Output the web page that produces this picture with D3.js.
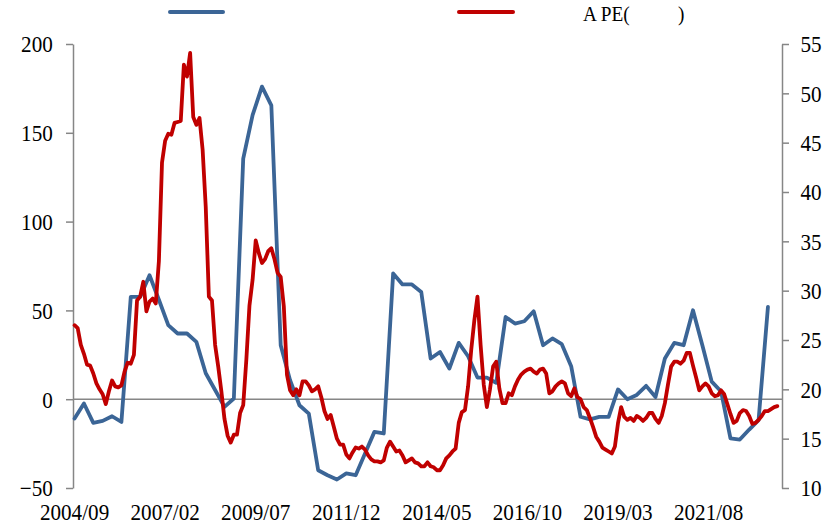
<!DOCTYPE html>
<html>
<head>
<meta charset="utf-8">
<script src="https://cdn.jsdelivr.net/npm/d3@7"></script>
<style>
  html, body { margin: 0; padding: 0; background: #fff; }
  svg { display: block; }
  text { font-family: "Liberation Serif", "Times New Roman", serif; fill: #000; }
</style>
</head>
<body>
<svg id="chart" width="823" height="524"></svg>
<script>
// ---------- data ----------
const startYear = 2004, startMonth = 9;          // first category: 2004/09 (monthly categories)
const monthCount = 227;                           // categories on the x axis
const xTickLabels = ["2004/09","2007/02","2009/07","2011/12","2014/05","2016/10","2019/03","2021/08"];
const xTickStep = 29;                             // months between labels
const leftTicks = [-50, 0, 50, 100, 150, 200];
const rightTicks = [10, 15, 20, 25, 30, 35, 40, 45, 50, 55];

// blue series (left axis), quarterly observations starting 2004/09
const blueStep = 3;
const blueValues = [
  -10.9, -2.4, -13.3, -12.2, -9.6, -12.8, 57.6, 57.6, 69.8, 56.0,
  41.7, 37.0, 37.0, 32.3, 14.6, 5.2, -4.3, 0.4, 135.5, 160.0,
  176.0, 165.5, 30.4, 10.7, -3.4, -8.1, -40.0, -42.8, -45.2, -41.8,
  -42.8, -30.6, -18.4, -19.3, 70.8, 64.6, 64.6, 60.4, 22.9, 26.6,
  17.3, 31.7, 24.2, 12.2, 12.2, 9.2, 46.3, 42.6, 43.9, 49.5,
  30.4, 34.2, 31.0, 18.6, -9.9, -11.4, -10.0, -10.0, 5.5, 0.0,
  2.4, 7.5, 1.2, 22.9, 31.7, 30.4, 50.1, 30.4, 9.9, 4.3,
  -22.1, -22.7, -17.1, -11.8, 52.0
];

// red series: A-share PE (right axis), monthly from 2004/09
const peValues = [
  26.5, 26.2, 24.5, 23.6, 22.5, 22.4, 21.6, 20.6, 20.0, 19.5,
  18.5, 19.8, 20.9, 20.3, 20.2, 20.4, 21.8, 22.7, 22.6, 23.5,
  29.0, 29.4, 30.9, 27.9, 28.9, 29.2, 28.7, 33.0, 43.0, 45.2,
  45.9, 45.8, 47.0, 47.1, 47.2, 52.9, 51.7, 54.1, 47.6, 46.8,
  47.5, 44.3, 38.5, 29.4, 29.0, 24.5, 22.3, 19.8, 17.0, 15.3,
  14.6, 15.4, 15.4, 17.6, 18.4, 23.0, 28.5, 31.1, 35.1, 33.8,
  32.8, 33.2, 34.0, 34.3, 33.2, 31.8, 31.4, 28.4, 21.5, 19.9,
  19.4, 20.0, 19.4, 20.8, 20.8, 20.4, 19.8, 20.0, 20.3, 19.2,
  17.8, 17.0, 17.4, 16.2, 15.0, 14.4, 14.4, 13.4, 13.0, 13.6,
  14.1, 14.0, 14.2, 13.9, 13.3, 12.9, 12.7, 12.7, 12.6, 12.8,
  14.1, 14.7, 14.2, 13.7, 13.8, 13.3, 12.6, 12.8, 13.0, 12.6,
  12.5, 12.2, 12.2, 12.6, 12.2, 12.1, 11.8, 11.8, 12.3, 13.0,
  13.3, 13.7, 14.0, 16.6, 17.7, 17.9, 20.3, 24.0, 27.0, 29.4,
  24.5, 20.5, 18.2, 20.0, 22.3, 22.8, 20.1, 18.6, 18.6, 19.6,
  19.4, 20.3, 21.0, 21.5, 21.8, 22.0, 22.1, 21.8, 21.6, 22.0,
  22.1, 21.6, 19.6, 19.8, 20.3, 20.6, 20.8, 20.6, 19.6, 19.3,
  20.1, 19.2, 19.0, 18.2, 17.9, 17.1, 16.2, 15.2, 14.7, 14.1,
  13.9, 13.7, 13.5, 14.2, 16.6, 18.2, 17.2, 16.9, 17.1, 16.8,
  17.3, 17.1, 16.8, 17.1, 17.6, 17.6, 17.0, 16.6, 17.3, 18.6,
  20.5, 22.3, 22.8, 22.8, 22.6, 22.9, 23.7, 23.7, 22.4, 21.2,
  19.9, 20.3, 20.6, 20.3, 19.6, 19.3, 19.4, 19.9, 19.5, 18.5,
  17.5, 16.6, 16.8, 17.6, 17.9, 17.8, 17.3, 16.5, 16.6, 16.9,
  17.3, 17.8, 17.8, 18.0, 18.2, 18.3
];
const legendRightText = ["A PE(", ")"];

// ---------- drawing ----------
const svg = d3.select("#chart");
const plot = { left: 73, right: 782, top: 44, bottom: 488 };
const axisColor = "#868686";
const blueColor = "#3B6596";
const redColor = "#C00000";
const fontSize = 23, sx = 0.92;

const x = d3.scaleLinear().domain([-0.5, monthCount - 0.5]).range([plot.left, plot.right]);
const yL = d3.scaleLinear().domain([-50, 200]).range([plot.bottom, plot.top]);
const yR = d3.scaleLinear().domain([10, 55]).range([plot.bottom, plot.top]);

function styleAxis(g, anchor) {
  g.select(".domain").attr("stroke", axisColor).attr("stroke-width", 1.5);
  g.selectAll(".tick line").attr("stroke", axisColor).attr("stroke-width", 1.5);
  g.selectAll(".tick text")
    .attr("font-family", "'Liberation Serif','Times New Roman',serif")
    .attr("font-size", fontSize)
    .attr("fill", "#000")
    .attr("text-anchor", anchor)
    .attr("dy", "0.34em")
    .attr("transform", `scale(${sx},1)`);
}

// left axis
const gL = svg.append("g").attr("transform", `translate(${plot.left},0)`)
  .call(d3.axisLeft(yL).tickValues(leftTicks).tickSize(7).tickPadding(15).tickSizeOuter(0));
styleAxis(gL, "end");

// right axis
const gR = svg.append("g").attr("transform", `translate(${plot.right},0)`)
  .call(d3.axisRight(yR).tickValues(rightTicks).tickSize(7).tickPadding(13).tickSizeOuter(0));
styleAxis(gR, "start");

// zero line (category axis)
svg.append("line")
  .attr("x1", plot.left).attr("x2", plot.right)
  .attr("y1", yL(0)).attr("y2", yL(0))
  .attr("stroke", axisColor).attr("stroke-width", 1.5);

// x labels
const gX = svg.append("g");
xTickLabels.forEach((lab, i) => {
  const cx = x(i * xTickStep);
  gX.append("text")
    .attr("transform", `translate(${cx},520) scale(${sx},1)`)
    .attr("text-anchor", "middle")
    .attr("font-size", fontSize)
    .text(lab);
});

// lines
const blueData = blueValues.map((v, i) => ({ m: i * blueStep, v }));
const peData = peValues.map((v, i) => ({ m: i, v }));

svg.append("path")
  .datum(blueData)
  .attr("fill", "none").attr("stroke", blueColor).attr("stroke-width", 3.8)
  .attr("stroke-linejoin", "round").attr("stroke-linecap", "round")
  .attr("d", d3.line().x(d => x(d.m)).y(d => yL(d.v)));

svg.append("path")
  .datum(peData)
  .attr("fill", "none").attr("stroke", redColor).attr("stroke-width", 3.8)
  .attr("stroke-linejoin", "round").attr("stroke-linecap", "round")
  .attr("d", d3.line().x(d => x(d.m)).y(d => yR(d.v)));

// legend
const lg = svg.append("g");
lg.append("line").attr("x1", 170).attr("x2", 223).attr("y1", 12).attr("y2", 12)
  .attr("stroke", blueColor).attr("stroke-width", 4).attr("stroke-linecap", "round");
lg.append("line").attr("x1", 459).attr("x2", 513).attr("y1", 12).attr("y2", 12)
  .attr("stroke", redColor).attr("stroke-width", 4).attr("stroke-linecap", "round");
lg.append("text").attr("transform", `translate(583,21) scale(${sx},1)`)
  .attr("font-size", fontSize - 2).text(legendRightText[0]);
lg.append("text").attr("transform", `translate(678,21) scale(${sx},1)`)
  .attr("font-size", fontSize - 2).text(legendRightText[1]);
</script>
</body>
</html>
